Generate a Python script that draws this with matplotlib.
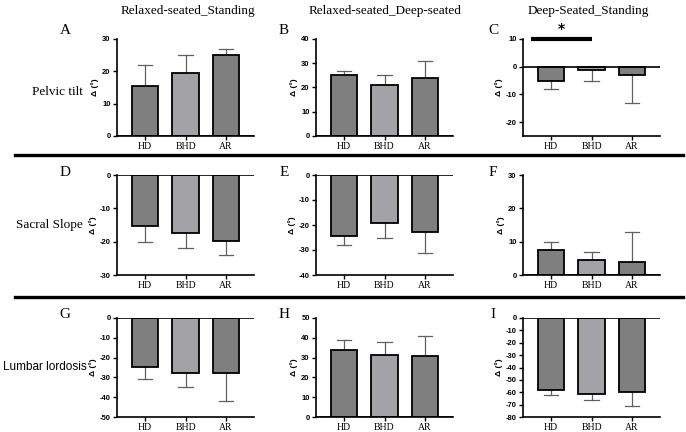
import matplotlib
matplotlib.use("Agg")
from matplotlib import pyplot as plt
from matplotlib.lines import Line2D

groups = ["HD", "BHD", "AR"]
col_titles = ["Relaxed-seated_Standing", "Relaxed-seated_Deep-seated", "Deep-Seated_Standing"]
row_labels = ["Pelvic tilt", "Sacral Slope", "Lumbar lordosis"]
letters = ["A", "B", "C", "D", "E", "F", "G", "H", "I"]

# mean and error-bar end for each panel (A..I)
means = [
    [15.5, 19.5, 25.0],
    [25.0, 21.0, 24.0],
    [-5.0, -1.3, -3.0],
    [-15.3, -17.3, -19.8],
    [-24.3, -19.3, -22.8],
    [7.5, 4.5, 4.0],
    [-24.5, -27.8, -27.8],
    [34.0, 31.5, 31.0],
    [-58.5, -61.5, -59.5],
]
err_ends = [
    [22, 25, 27],
    [27, 25, 31],
    [-8, -5, -13],
    [-20, -22, -24],
    [-28, -25, -31],
    [10, 7, 13],
    [-31, -35, -42],
    [39, 38, 41],
    [-62, -66, -71],
]
ylims = [(0, 30), (0, 40), (-25, 10), (-30, 0), (-40, 0), (0, 30), (-50, 0), (0, 50), (-80, 0)]
yticks = [
    [0, 10, 20, 30],
    [0, 10, 20, 30, 40],
    [-20, -10, 0, 10],
    [-30, -20, -10, 0],
    [-40, -30, -20, -10, 0],
    [0, 10, 20, 30],
    [-50, -40, -30, -20, -10, 0],
    [0, 10, 20, 30, 40, 50],
    [-80, -70, -60, -50, -40, -30, -20, -10, 0],
]

bar_colors = ["#7f7f7f", "#a2a2a7", "#7f7f7f"]

W, H = 686, 432
fig = plt.figure(figsize=(W / 100, H / 100), dpi=100)

col_left = [117, 316, 523]
col_width = 137
row_top = [39, 175, 318]
row_h = [97, 100, 99]

serif = "Liberation Serif"
sans = "Liberation Sans"

for i in range(9):
    r, c = divmod(i, 3)
    left = col_left[c] / W
    bottom = (H - row_top[r] - row_h[r]) / H
    ax = fig.add_axes([left, bottom, col_width / W, row_h[r] / H])
    x = range(3)
    ax.bar(x, means[i], width=0.65, color=bar_colors, edgecolor="black", linewidth=1.3, zorder=3)
    for k in x:
        ax.plot([k, k], [means[i][k], err_ends[i][k]], color="#606060", lw=0.9, zorder=2)
        ax.plot([k - 0.18, k + 0.18], [err_ends[i][k], err_ends[i][k]], color="#606060", lw=0.9, zorder=2)
    ax.axhline(0, color="black", lw=1.2, zorder=4)
    ax.set_xlim(-0.7, 2.7)
    ax.set_ylim(*ylims[i])
    ax.set_yticks(yticks[i])
    ax.set_yticklabels([str(t) for t in yticks[i]], fontfamily=sans, fontweight="bold", fontsize=5.5)
    ax.set_xticks(list(x))
    ax.set_xticklabels(groups, fontfamily=serif, fontsize=7)
    ax.spines["top"].set_visible(False)
    ax.spines["right"].set_visible(False)
    ax.spines["left"].set_linewidth(1.2)
    ax.spines["bottom"].set_linewidth(1.2)
    ax.tick_params(axis="both", length=3, width=1, pad=1.5)
    ax.set_ylabel("Δ (°)", fontfamily=sans, fontweight="bold", fontsize=6, labelpad=2)
    ax.patch.set_alpha(0)

    # panel letter
    lx = [65, 284, 493][c]
    ly = [31, 173, 314][r]
    fig.text(lx / W, 1 - ly / H, letters[i], fontfamily=serif, fontsize=11, ha="center", va="center")

    if i == 2:
        ax.plot([-0.5, 1.0], [10, 10], color="black", lw=3, clip_on=False, solid_capstyle="butt", zorder=5)
        ax.text(0.25, 11.2, "*", ha="center", va="bottom", fontsize=10, fontweight="bold")

# column titles
for c, t in enumerate(col_titles):
    cx = [188, 385, 588][c]
    fig.text(cx / W, 1 - 11 / H, t, fontfamily=serif, fontsize=9.5, ha="center", va="center")

# row labels
fig.text(57 / W, 1 - 92 / H, row_labels[0], fontfamily=serif, fontsize=9.5, ha="center", va="center")
fig.text(49 / W, 1 - 225 / H, row_labels[1], fontfamily=serif, fontsize=9.5, ha="center", va="center")
fig.text(45 / W, 1 - 367 / H, row_labels[2], fontfamily=sans, fontsize=8.5, ha="center", va="center")

# separators
for yy in [155, 297]:
    fig.add_artist(Line2D([15 / W, 683 / W], [1 - yy / H, 1 - yy / H], color="black", lw=2.4))

fig.savefig("out.png", dpi=100)
